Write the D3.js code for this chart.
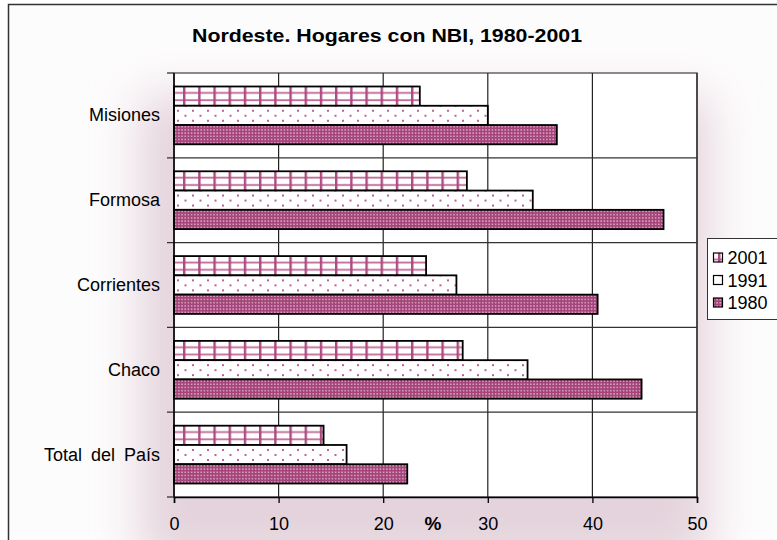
<!DOCTYPE html>
<html>
<head>
<meta charset="utf-8">
<script src="https://cdn.jsdelivr.net/npm/d3@7"></script>
<style>
  body { margin: 0; background: #fff; }
  text { font-family: "Liberation Sans", Arial, sans-serif; fill: #000; }
</style>
</head>
<body>
<div id="chart"></div>
<script>
// data
const categories = ["Misiones", "Formosa", "Corrientes", "Chaco", "Total del País"];
const series = ["2001", "1991", "1980"];
const values2001 = [23.5, 28.0, 24.1, 27.6, 14.3];
const values1991 = [30.0, 34.3, 27.0, 33.8, 16.5];
const values1980 = [36.6, 46.8, 40.5, 44.7, 22.3];
const xTicks = [0, 10, 20, 30, 40, 50];

const seriesValues = { "2001": values2001, "1991": values1991, "1980": values1980 };

const W = 777, H = 540;
const margin = { top: 73, right: 80, bottom: 43, left: 174 };

const svg = d3.select("#chart").append("svg")
    .attr("width", W).attr("height", H);

const defs = svg.append("defs");

const x = d3.scaleLinear().domain([0, 50]).range([margin.left, W - margin.right]);
const y0 = d3.scaleBand().domain(categories).range([margin.top, H - margin.bottom]);
const y1 = d3.scaleBand().domain(series).range([0, y0.bandwidth()])
    .paddingInner(0).paddingOuter(0.7);
const bh = y1.bandwidth();

// soft pink glow behind the plot
const glow = defs.append("filter").attr("id", "glow")
    .attr("x", "-30%").attr("y", "-30%").attr("width", "160%").attr("height", "160%");
glow.append("feGaussianBlur").attr("stdDeviation", 24);

// 2001: vertical and horizontal magenta lines on white
const p2001 = defs.append("pattern").attr("id", "p2001")
    .attr("patternUnits", "userSpaceOnUse").attr("x", 9).attr("width", 15.2).attr("height", bh);
p2001.append("rect").attr("width", 15.2).attr("height", bh).attr("fill", "#fff");
p2001.append("rect").attr("x", 0).attr("y", 5.5).attr("width", 15.2).attr("height", 1.8).attr("fill", "#c06a98");
p2001.append("rect").attr("x", 0).attr("y", 12.8).attr("width", 15.2).attr("height", 1.8).attr("fill", "#c06a98");
p2001.append("rect").attr("x", 0).attr("y", 0).attr("width", 2.4).attr("height", bh).attr("fill", "#ad4a80");

// 1991: sparse staggered dots on white
const p1991 = defs.append("pattern").attr("id", "p1991")
    .attr("patternUnits", "userSpaceOnUse").attr("width", 15).attr("height", 10);
p1991.append("rect").attr("width", 15).attr("height", 10).attr("fill", "#fff");
p1991.append("rect").attr("x", 3).attr("y", 4).attr("width", 2).attr("height", 2).attr("fill", "#c2609a");
p1991.append("rect").attr("x", 10.5).attr("y", 9).attr("width", 2).attr("height", 1).attr("fill", "#c2609a");
p1991.append("rect").attr("x", 10.5).attr("y", 0).attr("width", 2).attr("height", 1).attr("fill", "#c2609a");

// 1980: dense magenta with light dots
const p1980 = defs.append("pattern").attr("id", "p1980")
    .attr("patternUnits", "userSpaceOnUse").attr("width", 3.2).attr("height", 3.2);
p1980.append("rect").attr("width", 3.2).attr("height", 3.2).attr("fill", "#a4457a");
p1980.append("rect").attr("x", 1).attr("y", 1).attr("width", 1.3).attr("height", 1.3).attr("fill", "#eec3da");

const fills = { "2001": "url(#p2001)", "1991": "url(#p1991)", "1980": "url(#p1980)" };

// chart area background (runs past the window on right/bottom)
svg.append("rect")
    .attr("x", 8.5).attr("y", 4.5).attr("width", 790).attr("height", 560)
    .attr("fill", "#fdfcfd");
svg.append("rect")
    .attr("x", 140).attr("y", 95).attr("width", 570).attr("height", 470)
    .attr("fill", "#e4d3dc").attr("filter", "url(#glow)");
svg.append("rect")
    .attr("x", 8.5).attr("y", 4.5).attr("width", 790).attr("height", 560)
    .attr("fill", "none").attr("stroke", "#333").attr("stroke-width", 1.5);

// title
svg.append("text")
    .attr("x", 387).attr("y", 42)
    .attr("text-anchor", "middle")
    .attr("textLength", 390).attr("lengthAdjust", "spacingAndGlyphs")
    .style("font-size", "19px").style("font-weight", "bold")
    .text("Nordeste. Hogares con NBI, 1980-2001");

// plot area
svg.append("rect")
    .attr("x", x(0)).attr("y", margin.top)
    .attr("width", x(50) - x(0)).attr("height", H - margin.bottom - margin.top)
    .attr("fill", "#fff").attr("stroke", "#666").attr("stroke-width", 1.5);

// vertical gridlines
svg.append("g").selectAll("line").data(xTicks.slice(1))
    .join("line")
    .attr("x1", d => x(d)).attr("x2", d => x(d))
    .attr("y1", margin.top).attr("y2", H - margin.bottom)
    .attr("stroke", "#222").attr("stroke-width", 1.2);

// horizontal separators between categories
svg.append("g").selectAll("line").data(categories.slice(1))
    .join("line")
    .attr("x1", x(0) - 7).attr("x2", x(50))
    .attr("y1", d => y0(d)).attr("y2", d => y0(d))
    .attr("stroke", "#333").attr("stroke-width", 1.3);

// bars (each rect translated so its pattern starts at the bar's top-left)
const groups = svg.append("g").selectAll("g").data(categories)
    .join("g")
    .attr("transform", d => `translate(0,${y0(d)})`);

groups.selectAll("rect")
    .data((c, i) => series.map(s => ({ s, v: seriesValues[s][i] })))
    .join("rect")
    .attr("transform", d => `translate(${x(0)},${y1(d.s)})`)
    .attr("width", d => x(d.v) - x(0))
    .attr("height", bh)
    .attr("fill", d => fills[d.s])
    .attr("stroke", "#000").attr("stroke-width", 1.8);

// y axis
const yAxisG = svg.append("g").attr("transform", `translate(${x(0)},0)`);
yAxisG.append("line")
    .attr("x1", 0).attr("x2", 0)
    .attr("y1", margin.top).attr("y2", H - margin.bottom)
    .attr("stroke", "#000").attr("stroke-width", 1.5);
yAxisG.selectAll("line.tk").data([margin.top, H - margin.bottom])
    .join("line").attr("class", "tk")
    .attr("x1", -7).attr("x2", 0)
    .attr("y1", d => d).attr("y2", d => d)
    .attr("stroke", "#333").attr("stroke-width", 1.3);
yAxisG.selectAll("text").data(categories)
    .join("text")
    .attr("x", -14)
    .attr("y", d => y0(d) + y0.bandwidth() / 2 + 6)
    .attr("text-anchor", "end")
    .style("font-size", "18px")
    .style("word-spacing", d => d === "Total del País" ? "4px" : null)
    .text(d => d);

// x axis
const xAxis = d3.axisBottom(x).tickValues(xTicks).tickSize(6).tickPadding(14);
const xAxisG = svg.append("g")
    .attr("transform", `translate(0,${H - margin.bottom})`)
    .call(xAxis);
xAxisG.select(".domain").attr("stroke", "#000").attr("stroke-width", 1.5);
xAxisG.selectAll(".tick line").attr("stroke", "#000").attr("stroke-width", 1.3);
xAxisG.selectAll(".tick text")
    .style("font-family", "'Liberation Sans', Arial, sans-serif")
    .style("font-size", "18px").attr("fill", "#000");

svg.append("text")
    .attr("x", x(24.75)).attr("y", H - margin.bottom + 33)
    .attr("text-anchor", "middle")
    .style("font-size", "19px").style("font-weight", "bold")
    .text("%");

// legend
const legend = svg.append("g").attr("transform", "translate(707.5,238.5)");
legend.append("rect")
    .attr("width", 80).attr("height", 81)
    .attr("fill", "#fff").attr("stroke", "#333").attr("stroke-width", 1);
legend.selectAll("g").data(series)
    .join("g")
    .attr("transform", (d, i) => `translate(1.5,${14.5 + i * 22.5})`)
    .each(function (d) {
        const g = d3.select(this);
        // swatch placed so the pattern motif sits in its middle
        g.append("rect").attr("x", 4.5).attr("y", 0).attr("width", 9).attr("height", 9)
            .attr("fill", fills[d]).attr("stroke", "#000").attr("stroke-width", 1.2);
        g.append("text").attr("x", 18.5).attr("y", 11)
            .style("font-size", "18px").text(d);
    });
</script>
</body>
</html>
